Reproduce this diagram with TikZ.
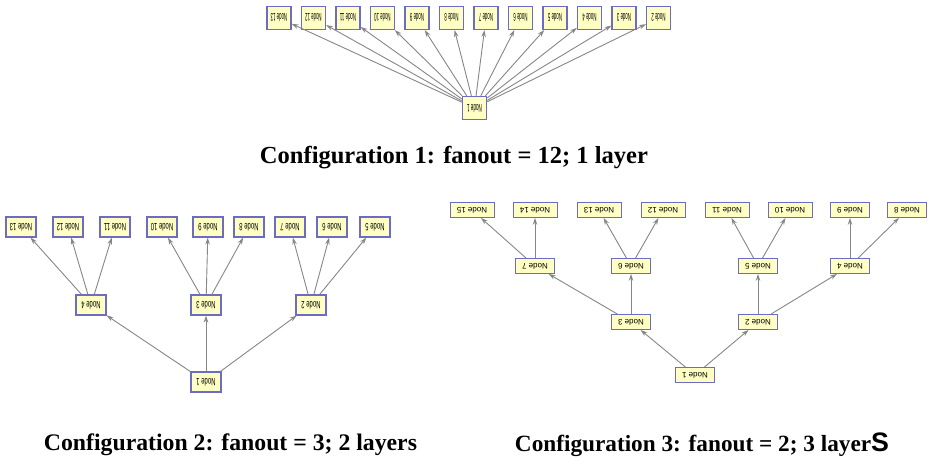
\documentclass[tikz,border=0pt]{standalone}
\usepackage{fontspec}
\usepackage{graphicx}
\setmainfont{Liberation Serif}
\newfontfamily\nodefont{Liberation Sans}
\usetikzlibrary{arrows.meta}
\definecolor{nfill}{HTML}{FFFFC4}
\definecolor{ndraw}{HTML}{6C6CC4}
\definecolor{edgec}{HTML}{868686}
\newcommand{\ntxt}[3]{\scalebox{#1}[#2]{\rotatebox{180}{#3}}}
\tikzset{
  box/.style={draw=ndraw, fill=nfill, line width=1.1pt, inner sep=0pt, font=\nodefont\fontsize{7}{8}\selectfont},
  boxa/.style={box, minimum width=24pt, minimum height=23pt},
  boxb/.style={box, minimum width=30pt, minimum height=20pt},
  boxc/.style={box, line width=0.8pt, minimum width=39pt, minimum height=15pt, font=\nodefont\fontsize{8}{9}\selectfont},
  boxcw/.style={boxc, minimum width=44pt},
  conn/.style={draw=edgec, line width=0.9pt, -{Stealth[length=7pt,width=4.5pt]}},
  captxt/.style={inner sep=0pt, font=\bfseries}
}
\begin{document}
\begin{tikzpicture}[x=1pt,y=-1pt]
\useasboundingbox (0,0) rectangle (929,461);
% ---------- Configuration 1 ----------
\node[boxa, line width=1.4pt] (a1) at (474.5,108) {\ntxt{0.65}{1.6}{Node 1}};
\foreach \k in {2,...,13}{
  \pgfmathsetmacro{\xx}{279+(13-\k)*34.5}
  \node[boxa] (a\k) at (\xx,18) {\ntxt{0.62}{1.6}{Node \k}};
  \draw[conn] (a1) -- (a\k);
}
\node[captxt] (c1) at (454,158) {\resizebox{388pt}{!}{Configuration 1: fanout = 12; 1 layer}};
% ---------- Configuration 2 ----------
\node[boxb] (b1) at (206,382) {\ntxt{0.85}{1.5}{Node 1}};
\node[boxb] (b4) at (91,305) {\ntxt{0.85}{1.5}{Node 4}};
\node[boxb] (b3) at (206,305) {\ntxt{0.85}{1.5}{Node 3}};
\node[boxb] (b2) at (311,305) {\ntxt{0.85}{1.5}{Node 2}};
\foreach \k/\xx in {13/21,12/68,11/115,10/162,9/208,8/249,7/290,6/332,5/375}{
  \node[boxb] (b\k) at (\xx,227) {\ntxt{0.85}{1.5}{Node \k}};
}
\foreach \p/\c in {1/4,1/3,1/2,4/13,4/12,4/11,3/10,3/9,3/8,2/7,2/6,2/5}{
  \draw[conn] (b\p) -- (b\c);
}
\node[captxt] (c2) at (230.5,445) {\resizebox{373pt}{!}{Configuration 2: fanout = 3; 2 layers}};
% ---------- Configuration 3 ----------
\node[boxc] (d1) at (695,375) {\ntxt{1}{1}{Node 1}};
\node[boxc] (d3) at (631,322) {\ntxt{1}{1}{Node 3}};
\node[boxc] (d2) at (758,322) {\ntxt{1}{1}{Node 2}};
\foreach \k/\xx in {7/535,6/631,5/758,4/850}{
  \node[boxc] (d\k) at (\xx,266) {\ntxt{1}{1}{Node \k}};
}
\foreach \k/\xx in {15/472,14/535,13/599,12/663,11/727,10/790}{
  \node[boxcw] (d\k) at (\xx,210) {\ntxt{1}{1}{Node \k}};
}
\foreach \k/\xx in {9/850,8/907}{
  \node[boxc] (d\k) at (\xx,210) {\ntxt{1}{1}{Node \k}};
}
\foreach \p/\c in {1/3,1/2,3/7,3/6,2/5,2/4,7/15,7/14,6/13,6/12,5/11,5/10,4/9,4/8}{
  \draw[conn] (d\p) -- (d\c);
}
\node[captxt] (c3) at (702,445) {\resizebox{374pt}{!}{Configuration 3: fanout = 2; 3 layer{\nodefont\bfseries\fontsize{11.5}{14}\selectfont S}}};
\end{tikzpicture}
\end{document}
